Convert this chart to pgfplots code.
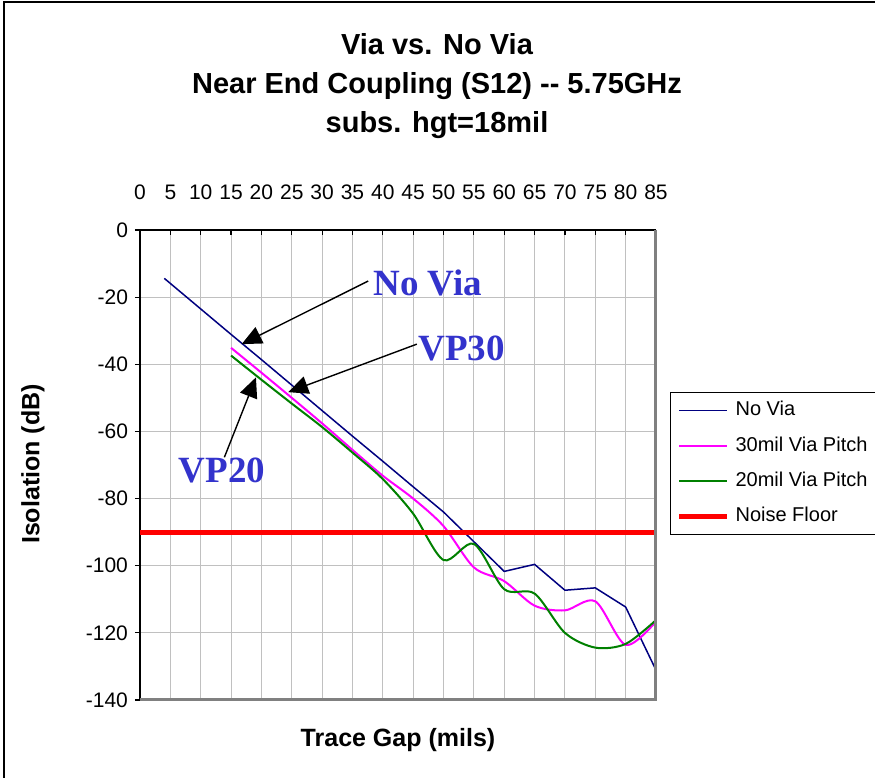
\documentclass[border=0pt]{standalone}
\usepackage{pgfplots}
\pgfplotsset{compat=1.18}
\usetikzlibrary{arrows.meta}
\usepackage{fontspec}
\setmainfont{Liberation Sans}
\newfontfamily\timesfont{Liberation Serif}

\definecolor{novia}{RGB}{0,0,128}
\definecolor{vp30}{RGB}{255,0,255}
\definecolor{vp20}{RGB}{0,128,0}
\definecolor{noise}{RGB}{255,0,0}
\definecolor{annot}{RGB}{51,51,204}
\definecolor{gridgray}{RGB}{192,192,192}
\definecolor{framegray}{RGB}{128,128,128}

\begin{document}
\begin{tikzpicture}
\useasboundingbox (0,0) rectangle (437.5pt,389pt);
\fill[white] (0,0) rectangle (437.5pt,389pt);
\draw[line width=0.7pt] (2pt,-5pt) -- (2pt,388pt) -- (445pt,388pt);

\node[font=\bfseries\fontsize{14.5pt}{19.5pt}\selectfont, align=center] at (218.5pt,346pt)
  {Via vs. No Via\\Near End Coupling (S12) -{}- 5.75GHz\\subs. hgt=18mil};

\begin{axis}[
  at={(70pt,39pt)}, anchor=south west,
  scale only axis, width=258pt, height=235pt,
  xmin=0, xmax=85, ymin=-140, ymax=0,
  axis x line*=top, axis y line*=left,
  axis line style={black, line width=0.75pt},
  xtick={0,5,...,85}, ytick={-140,-120,...,0},
  grid=major, major grid style={draw=gridgray, line width=0.5pt},
  tick align=outside, major tick length=2.5pt,
  tick style={black, line width=0.6pt},
  x tick style={yshift=-2.5pt},
  ticklabel style={font=\fontsize{10.5pt}{12pt}\selectfont},
  /pgf/number format/assume math mode=true,
  xticklabel style={yshift=9pt},
  clip=false,
  legend style={at={(1.0271,0.6553)}, anchor=north west, draw=black, line width=0.6pt,
    fill=white, font=\fontsize{10pt}{12pt}\selectfont, inner xsep=3pt, inner ysep=2pt,
    row sep=4pt, column sep=1pt,
    nodes={text height=7.5pt, text depth=2.2pt, inner sep=2pt},
    cells={anchor=west}},
  legend image code/.code={\draw[#1] (0pt,0pt) -- (24pt,0pt);},
]
\addplot[novia, line width=0.75pt] coordinates {
  (4,-14.4) (15,-31.1) (20,-38.6) (25,-46.2) (30,-53.8) (35,-61.4) (40,-68.9)
  (45,-76.5) (50,-84.0) (60,-101.7) (65,-99.6) (70,-107.3) (75,-106.6)
  (80,-112.3) (85,-131.1)};
\addlegendentry{No Via}
\addplot[vp30, line width=1pt, smooth] coordinates {
  (15,-35.1) (20,-42.5) (25,-50.0) (30,-57.6) (35,-65.5) (40,-73.2) (45,-80.0)
  (50,-88.2) (55,-100.5) (60,-104.6) (65,-111.9) (70,-113.3) (75,-110.6)
  (80,-123.6) (85,-116.6)};
\addlegendentry{30mil Via Pitch}
\addplot[vp20, line width=1pt, smooth] coordinates {
  (15,-37.4) (20,-44.6) (25,-51.7) (30,-58.7) (35,-66.3) (40,-74.2) (45,-84.5)
  (50,-98.3) (55,-93.5) (60,-107.0) (65,-108.3) (70,-120.0) (75,-124.4)
  (80,-123.3) (85,-116.2)};
\addlegendentry{20mil Via Pitch}
\addplot[noise, line width=2.5pt] coordinates {(0,-90) (85,-90)};
\addlegendentry{Noise Floor}

\draw[framegray, line width=1.5pt] (rel axis cs:0,0) -- (rel axis cs:1,0) -- (rel axis cs:1,1);

\node[font={\timesfont\bfseries\fontsize{18.5pt}{20pt}\selectfont}, text=annot] at (axis cs:47.4,-15.8) {No Via};
\node[font={\timesfont\bfseries\fontsize{18.5pt}{20pt}\selectfont}, text=annot] at (axis cs:53.0,-35.2) {VP30};
\node[font={\timesfont\bfseries\fontsize{18.5pt}{20pt}\selectfont}, text=annot] at (axis cs:13.5,-71.5) {VP20};
\draw[-{Triangle[length=10pt,width=9pt]}, line width=0.7pt] (axis cs:37.6,-15.2) -- (axis cs:16.75,-34.0);
\draw[-{Triangle[length=10pt,width=9pt]}, line width=0.7pt] (axis cs:45.6,-34.0) -- (axis cs:24.4,-48.3);
\draw[-{Triangle[length=10pt,width=9pt]}, line width=0.7pt] (axis cs:13.9,-67.7) -- (axis cs:19.1,-43.9);
\end{axis}

\node[font=\bfseries\fontsize{12.5pt}{14pt}\selectfont] at (199pt,19pt) {Trace Gap (mils)};
\node[font=\bfseries\fontsize{12.5pt}{14pt}\selectfont, rotate=90] at (16.5pt,157pt) {Isolation (dB)};
\end{tikzpicture}
\end{document}
